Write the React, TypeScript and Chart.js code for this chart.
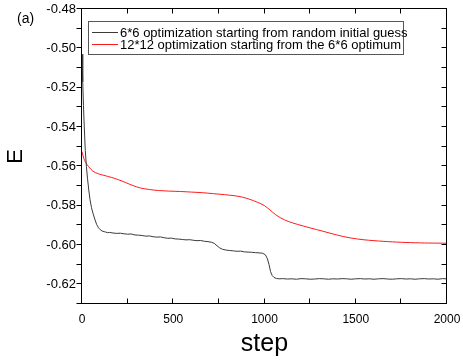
import React, { useEffect, useRef } from "react";
import { Chart, registerables } from "chart.js";

Chart.register(...registerables);

const FONT = "'Liberation Sans', Arial, Helvetica, sans-serif";

const panelLabel = "(a)";
const xTitle = "step";
const yTitle = "E";
const seriesLabels = [
  "6*6 optimization starting from random initial guess",
  "12*12 optimization starting from the 6*6 optimum",
];
const seriesColors = ["#3a3a3a", "#ff1a1a"];

const xTicks = [0, 500, 1000, 1500, 2000];
const xMinor = [0, 250, 500, 750, 1000, 1250, 1500, 1750, 2000];
const yTicks = [-0.62, -0.6, -0.58, -0.56, -0.54, -0.52, -0.5, -0.48];
const yMinor = [-0.63, -0.62, -0.61, -0.6, -0.59, -0.58, -0.57, -0.56, -0.55, -0.54, -0.53, -0.52, -0.51, -0.5, -0.49, -0.48];

// 6*6 optimization (gray)
const grayStep = [
  0, 4, 8, 12, 18, 24, 30, 37, 44, 52, 60, 70, 80, 90, 100, 110, 125, 140,
  150, 170, 190, 210, 230, 250, 270, 290, 310, 330, 350, 370, 390, 410, 430, 450, 470, 490,
  510, 530, 550, 570, 590, 610, 630, 650, 670, 690, 710, 725, 740, 755, 770, 790,
  810, 830, 850, 870, 890, 910, 930, 950, 970, 990, 1005, 1015, 1025, 1033, 1042, 1052, 1065, 1080,
  1100, 1125, 1150, 1175, 1200, 1225, 1250, 1275, 1300, 1325, 1350, 1375, 1400, 1425, 1450, 1475,
  1500, 1525, 1550, 1575, 1600, 1625, 1650, 1675, 1700, 1725, 1750, 1775, 1800, 1825, 1850, 1875,
  1900, 1925, 1950, 1975, 2000,
];
const grayE = [
  -0.503, -0.517, -0.529, -0.539, -0.552, -0.56, -0.566, -0.572, -0.577, -0.581, -0.5838, -0.5868, -0.5895, -0.5912, -0.5922, -0.5929, -0.5933, -0.5937,
  -0.5936, -0.5939, -0.5941, -0.594, -0.5943, -0.5945, -0.5944, -0.5949, -0.595, -0.5952, -0.5955, -0.5954, -0.5958, -0.596, -0.5959, -0.5963, -0.5966, -0.5965,
  -0.5969, -0.597, -0.5972, -0.5974, -0.5973, -0.5976, -0.5978, -0.5977, -0.5981, -0.5983, -0.5986, -0.5992, -0.6004, -0.6015, -0.6022, -0.6026,
  -0.6028, -0.603, -0.6032, -0.6031, -0.6035, -0.6036, -0.6037, -0.6039, -0.604, -0.6042, -0.605, -0.6068, -0.61, -0.6135, -0.6155, -0.6165, -0.617, -0.6172,
  -0.6171, -0.6173, -0.6172, -0.6174, -0.6171, -0.6172, -0.6174, -0.6173, -0.6171, -0.6172, -0.6174, -0.6172, -0.6173, -0.6171, -0.6172, -0.6174,
  -0.6172, -0.6171, -0.6173, -0.6172, -0.6174, -0.6172, -0.6171, -0.6173, -0.6174, -0.6172, -0.6171, -0.6173, -0.6172, -0.6174, -0.6172, -0.6171,
  -0.6173, -0.6172, -0.6174, -0.6171, -0.6172,
];

// 12*12 optimization (red)
const redStep = [
  0, 10, 20, 35, 60, 90, 120, 160, 200, 240, 280, 320, 370, 420, 480, 540, 600, 660, 720, 780,
  840, 880, 920, 960, 1000, 1030, 1060, 1090, 1130, 1180, 1250, 1320, 1400, 1470, 1540, 1600, 1700, 1800, 1900, 2000,
];
const redE = [
  -0.5526, -0.556, -0.558, -0.56, -0.5625, -0.5638, -0.5646, -0.5656, -0.5668, -0.5683, -0.5698, -0.571, -0.5718, -0.5723, -0.5726, -0.5728, -0.5731, -0.5734, -0.5739, -0.5744,
  -0.575, -0.5757, -0.5768, -0.5782, -0.58, -0.5822, -0.5845, -0.5863, -0.588, -0.5895, -0.5913, -0.593, -0.595, -0.5964, -0.5973, -0.5978, -0.5984, -0.5988, -0.599, -0.5991,
];

const W = 463;
const H = 362;

const framePlugin = {
  id: "frameAndLegend",
  afterDraw(chart: any) {
    const { ctx, chartArea } = chart;
    const xs = chart.scales.x;
    const ys = chart.scales.y;
    const L = Math.round(chartArea.left) - 0.5;
    const R = Math.round(chartArea.right) - 0.5;
    const T = Math.round(chartArea.top) - 0.5;
    const B = Math.round(chartArea.bottom) - 0.5;
    ctx.save();
    ctx.strokeStyle = "#000";
    ctx.lineWidth = 1;
    ctx.strokeRect(L, T, R - L, B - T);
    const tl = 5;
    ctx.beginPath();
    for (const v of yMinor) {
      const py = Math.round(ys.getPixelForValue(v)) - 0.5;
      ctx.moveTo(L - tl, py);
      ctx.lineTo(L, py);
      ctx.moveTo(R, py);
      ctx.lineTo(R - tl, py);
    }
    for (const v of xMinor) {
      const px = Math.round(xs.getPixelForValue(v)) - 0.5;
      ctx.moveTo(px, B);
      ctx.lineTo(px, B - tl);
      ctx.moveTo(px, T);
      ctx.lineTo(px, T + tl);
    }
    ctx.stroke();

    // legend
    const bx = 88.5, by = 21.5, bw = 315, bh = 33;
    ctx.fillStyle = "#fff";
    ctx.fillRect(bx, by, bw, bh);
    ctx.strokeStyle = "#555";
    ctx.strokeRect(bx, by, bw, bh);
    ctx.font = `13px ${FONT}`;
    ctx.textBaseline = "middle";
    ctx.textAlign = "left";
    chart.data.datasets.forEach((ds: any, i: number) => {
      const ry = Math.round(by + 10 + i * 12.6) + 0.5;
      ctx.strokeStyle = ds.borderColor;
      ctx.beginPath();
      ctx.moveTo(92, ry);
      ctx.lineTo(118, ry);
      ctx.stroke();
      ctx.fillStyle = "#000";
      ctx.fillText(ds.label, 120, ry + 0.5);
    });

    // panel label
    ctx.font = `14px ${FONT}`;
    ctx.fillStyle = "#000";
    ctx.fillText(panelLabel, 17, 19);
    ctx.restore();
  },
};

export default function App() {
  const ref = useRef<HTMLCanvasElement | null>(null);

  useEffect(() => {
    if (!ref.current) return;
    const chart = new Chart(ref.current, {
      type: "line",
      data: {
        datasets: [
          {
            label: seriesLabels[0],
            data: grayStep.map((s, i) => ({ x: s, y: grayE[i] })),
            borderColor: seriesColors[0],
            borderWidth: 1,
            pointRadius: 0,
            tension: 0,
          },
          {
            label: seriesLabels[1],
            data: redStep.map((s, i) => ({ x: s, y: redE[i] })),
            borderColor: seriesColors[1],
            borderWidth: 1,
            pointRadius: 0,
            tension: 0.3,
          },
        ],
      },
      options: {
        responsive: false,
        animation: false,
        devicePixelRatio: 1,
        layout: { padding: { top: 9, right: 16, left: 0, bottom: 0 } },
        plugins: { legend: { display: false }, tooltip: { enabled: false } },
        scales: {
          x: {
            type: "linear",
            min: 0,
            max: 2000,
            grid: { display: false, drawTicks: false },
            border: { display: false },
            afterBuildTicks: (s: any) => {
              s.ticks = xTicks.map((v) => ({ value: v }));
            },
            afterFit: (s: any) => {
              s.height = H - 304;
              s.paddingRight = 0;
              s.paddingLeft = 0;
            },
            ticks: {
              color: "#000",
              font: { family: FONT, size: 12 },
              padding: 8,
              maxRotation: 0,
              autoSkip: false,
              callback: (v: any) => String(v),
            },
            title: {
              display: true,
              text: xTitle,
              color: "#000",
              font: { family: FONT, size: 25 },
              padding: { top: 0, bottom: 3 },
            },
          },
          y: {
            type: "linear",
            min: -0.63,
            max: -0.48,
            grid: { display: false, drawTicks: false },
            border: { display: false },
            afterBuildTicks: (s: any) => {
              s.ticks = yTicks.map((v) => ({ value: v }));
            },
            afterFit: (s: any) => {
              s.width = 82;
              s.paddingTop = 0;
              s.paddingBottom = 0;
            },
            ticks: {
              color: "#000",
              font: { family: FONT, size: 13 },
              padding: 6,
              autoSkip: false,
              callback: (v: any) => Number(v).toFixed(2),
            },
            title: {
              display: true,
              text: yTitle,
              color: "#000",
              font: { family: FONT, size: 22 },
              padding: { top: 3, bottom: 0 },
            },
          },
        },
      },
      plugins: [framePlugin],
    });
    return () => chart.destroy();
  }, []);

  return (
    <div style={{ position: "absolute", left: 0, top: 0, width: W, height: H, background: "#fff" }}>
      <canvas ref={ref} width={W} height={H} style={{ display: "block" }} />
    </div>
  );
}
